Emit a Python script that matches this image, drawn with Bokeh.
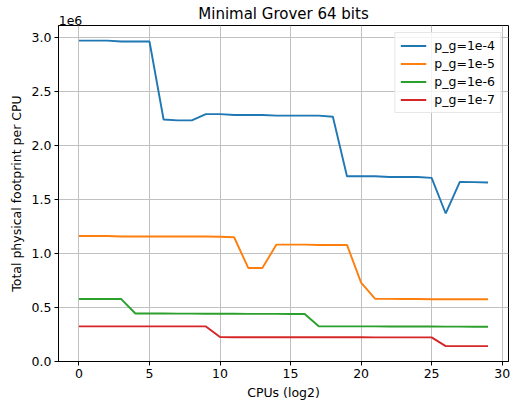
from bokeh.plotting import figure
from bokeh.models import (Range1d, FixedTicker, CustomJSTickFormatter, LinearAxis,
                          Legend, LegendItem)
from bokeh.embed import file_html
from bokeh.resources import INLINE

cpus_log2 = list(range(30))
pg_1e4 = [2.970, 2.970, 2.970, 2.962, 2.962, 2.962, 2.240, 2.232, 2.232, 2.290,
          2.290, 2.282, 2.282, 2.282, 2.276, 2.276, 2.276, 2.276, 2.266, 1.714,
          1.714, 1.714, 1.708, 1.708, 1.708, 1.700, 1.370, 1.663, 1.660, 1.657]
pg_1e5 = [1.162, 1.162, 1.162, 1.157, 1.157, 1.157, 1.157, 1.157, 1.157, 1.157,
          1.155, 1.150, 0.866, 0.866, 1.082, 1.082, 1.082, 1.079, 1.079, 1.079,
          0.730, 0.580, 0.580, 0.578, 0.578, 0.576, 0.576, 0.576, 0.576, 0.576]
pg_1e6 = [0.578, 0.578, 0.578, 0.578, 0.444, 0.444, 0.444, 0.443, 0.443, 0.442,
          0.442, 0.442, 0.441, 0.441, 0.441, 0.440, 0.440, 0.326, 0.325, 0.325,
          0.325, 0.325, 0.324, 0.324, 0.324, 0.324, 0.323, 0.323, 0.322, 0.322]
pg_1e7 = [0.325, 0.325, 0.325, 0.325, 0.325, 0.325, 0.325, 0.325, 0.325, 0.325,
          0.226, 0.225, 0.225, 0.225, 0.224, 0.224, 0.224, 0.224, 0.224, 0.224,
          0.224, 0.223, 0.223, 0.223, 0.223, 0.223, 0.142, 0.142, 0.142, 0.142]
labels = ["p_g=1e-4", "p_g=1e-5", "p_g=1e-6", "p_g=1e-7"]
colors = ["#1f77b4", "#ff7f0e", "#2ca02c", "#d62728"]
x_ticks = [0, 5, 10, 15, 20, 25, 30]
y_ticks = [0, 0.5e6, 1.0e6, 1.5e6, 2.0e6, 2.5e6, 3.0e6]
title_text = "Minimal Grover 64 bits"
offset_text = "1e6"

FONT = "DejaVu Sans"
FS = "12.5px"
XMIN, XMAX = -1.45, 30.45
YMIN, YMAX = 0, 3.11e6

p = figure(width=515, height=403, output_backend="svg", toolbar_location=None,
           title=None,
           x_range=Range1d(XMIN, XMAX), y_range=Range1d(YMIN, YMAX),
           min_border_left=58, min_border_right=7, min_border_top=25, min_border_bottom=42)

p.outline_line_color = "black"
p.outline_line_width = 1
p.background_fill_color = "white"

items = []
for series, lab, col in zip([pg_1e4, pg_1e5, pg_1e6, pg_1e7], labels, colors):
    r = p.line(cpus_log2, [v * 1e6 for v in series], line_color=col, line_width=1.9)
    items.append(LegendItem(label=lab, renderers=[r]))

legend = Legend(items=items, location="top_right", margin=7, padding=5,
                spacing=3, glyph_width=26, glyph_height=15, label_height=15,
                label_standoff=8, label_text_font=FONT, label_text_font_size=FS,
                label_text_color="black",
                border_line_color="#d0d0d0", border_line_width=1,
                background_fill_alpha=0.8)
p.add_layout(legend)

xax = p.below[0]
yax = p.left[0]
for ax in (xax, yax):
    ax.major_label_text_font = FONT
    ax.major_label_text_font_size = FS
    ax.major_label_text_color = "black"
    ax.axis_label_text_font = FONT
    ax.axis_label_text_font_size = FS
    ax.axis_label_text_font_style = "normal"
    ax.axis_label_text_color = "black"
    ax.axis_line_color = "black"
    ax.major_tick_line_color = "black"
    ax.major_tick_out = 4
    ax.major_tick_in = 0
    ax.minor_tick_line_color = None
    ax.major_label_standoff = 3

xax.ticker = FixedTicker(ticks=x_ticks)
yax.ticker = FixedTicker(ticks=y_ticks)
yax.formatter = CustomJSTickFormatter(code="return (tick/1e6).toFixed(1);")
xax.axis_label = "CPUs (log2)"
yax.axis_label = "Total physical footprint per CPU"
xax.axis_label_standoff = 4
yax.axis_label_standoff = 5

# top panel: offset text "1e6" at the left edge and the centred title
top = LinearAxis(ticker=FixedTicker(ticks=[-0.6]),
                 formatter=CustomJSTickFormatter(code="return '%s';" % offset_text),
                 axis_label=title_text)
top.axis_line_color = None
top.major_tick_line_color = None
top.minor_tick_line_color = None
top.major_tick_out = 0
top.major_tick_in = 0
top.major_label_standoff = 1
top.major_label_text_font = FONT
top.major_label_text_font_size = FS
top.major_label_text_color = "black"
top.axis_label_text_font = FONT
top.axis_label_text_font_size = "15px"
top.axis_label_text_font_style = "normal"
top.axis_label_text_color = "black"
top.axis_label_standoff = -10
p.add_layout(top, "above")

p.xgrid.ticker = FixedTicker(ticks=x_ticks)
p.ygrid.ticker = FixedTicker(ticks=y_ticks)
p.grid.grid_line_color = "#c0c0c0"
p.grid.grid_line_width = 1

open("out.html", "w").write(file_html(p, INLINE))
